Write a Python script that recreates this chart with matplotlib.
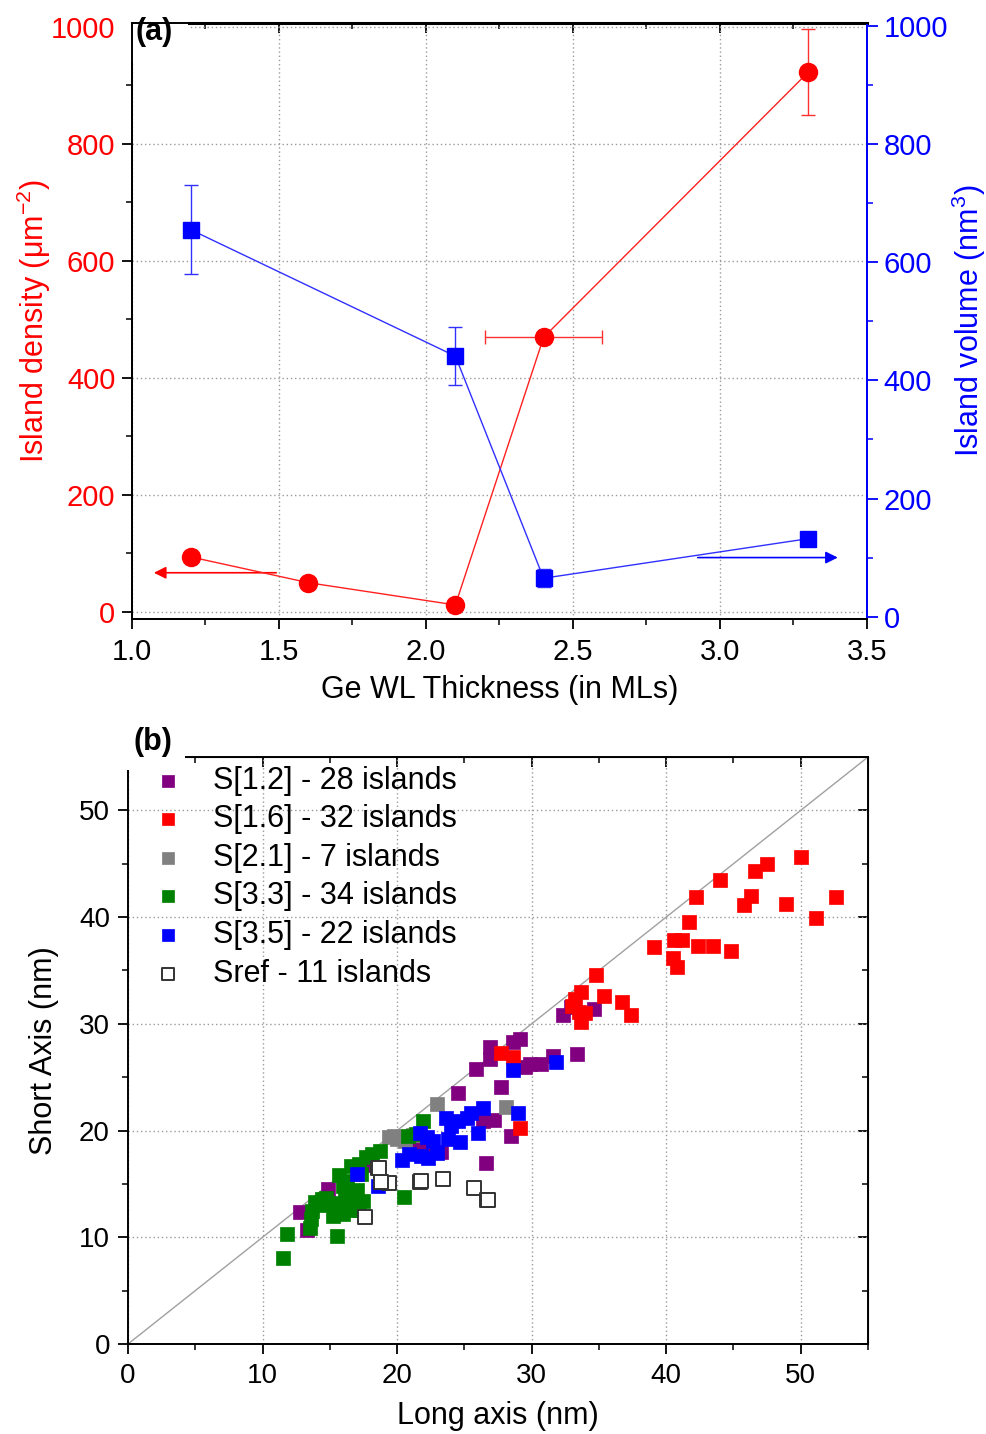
import numpy as np
import matplotlib
matplotlib.use("Agg")
import matplotlib.pyplot as plt
from matplotlib.ticker import MultipleLocator

plt.rcParams['font.family'] = ['Liberation Sans', 'DejaVu Sans']
plt.rcParams['mathtext.fontset'] = 'custom'
plt.rcParams['mathtext.rm'] = 'Liberation Sans'
plt.rcParams['mathtext.it'] = 'Liberation Sans:italic'

# ---- panel (a) data ----
thk_density = [1.2, 1.6, 2.1, 2.4, 3.3]
density = [94, 50, 12, 469, 922]
density_xerr = [0, 0, 0, 0.2, 0]
density_yerr = [0, 0, 0, 4, 73]

thk_volume = [1.2, 2.1, 2.4, 3.3]
volume = [655, 441, 65, 132]
volume_err = [75, 49, 15, 0]

# ---- panel (b) data ----
purple_long = [24.5, 25.9, 26.9, 26.9, 28.6, 29.1, 27.7, 29.9, 30.7, 31.6, 33.4, 32.3, 34.6, 27.2,
               28.5, 26.6, 23.3, 21.3, 14.9, 12.8, 13.3, 32.9, 21.8, 26.4, 29.5, 16.2, 17.9, 22.1]
purple_short = [23.5, 25.8, 27.8, 26.7, 28.3, 28.6, 24.1, 26.2, 26.2, 27.0, 27.2, 30.8, 31.4, 21.0,
                19.5, 17.0, 18.0, 18.7, 14.5, 12.4, 10.7, 31.6, 19.0, 20.9, 26.0, 14.8, 16.8, 18.4]

red_long = [39.1, 40.6, 41.2, 40.5, 40.8, 41.7, 42.2, 42.4, 43.5, 44.0, 44.8, 45.8, 46.3, 46.6, 47.5,
            48.9, 50.0, 51.1, 52.6, 34.8, 33.7, 35.4, 33.0, 33.5, 33.7, 36.7, 37.4, 27.7, 28.6, 29.1,
            33.2, 34.0]
red_short = [37.2, 37.9, 37.9, 36.2, 35.3, 39.5, 41.9, 37.3, 37.3, 43.5, 36.8, 41.1, 42.0, 44.3, 45.0,
             41.2, 45.6, 39.9, 41.9, 34.6, 33.0, 32.6, 31.7, 31.1, 30.2, 32.0, 30.8, 27.3, 26.9, 20.2,
             32.3, 31.0]

gray_long = [19.4, 20.0, 20.6, 19.8, 21.2, 23.0, 28.1]
gray_short = [19.4, 19.2, 19.0, 19.5, 19.6, 22.5, 22.2]

green_long = [11.5, 11.8, 15.5, 13.5, 13.6, 13.7, 13.9, 14.4, 14.7, 15.2, 15.6, 16.0, 16.5, 17.2, 17.5,
              16.7, 16.1, 16.0, 15.7, 16.3, 16.6, 17.2, 17.7, 18.1, 18.7, 17.3, 17.0, 20.5, 20.8, 21.9,
              21.4, 14.2, 15.1, 16.8]
green_short = [8.1, 10.3, 10.1, 10.9, 11.7, 12.5, 13.3, 13.6, 13.7, 12.0, 12.8, 12.2, 12.6, 12.6, 13.4,
               13.4, 14.0, 14.8, 15.8, 15.3, 16.7, 16.9, 17.5, 17.8, 18.1, 15.9, 14.4, 13.8, 19.5, 20.9,
               19.7, 13.0, 13.2, 14.2]

blue_long = [28.6, 31.8, 26.4, 29.0, 23.6, 24.5, 25.2, 26.0, 23.8, 24.7, 21.7, 22.2, 22.7, 20.9, 21.8,
             20.4, 22.3, 17.0, 18.6, 25.5, 23.0, 24.0]
blue_short = [25.7, 26.4, 22.1, 21.6, 21.2, 20.9, 21.2, 19.8, 19.2, 18.9, 19.8, 19.4, 19.0, 17.8, 17.6,
              17.2, 17.4, 15.9, 14.8, 21.6, 17.9, 20.4]

sref_long = [18.6, 19.4, 18.8, 21.7, 23.4, 25.7, 26.7, 17.6, 18.65, 21.75, 26.75]
sref_short = [16.5, 15.1, 15.2, 15.2, 15.5, 14.6, 13.5, 11.9, 16.45, 15.25, 13.45]

series_b = [
    ("S[1.2] - 28 islands", purple_long, purple_short, "#800080"),
    ("S[1.6] - 32 islands", red_long, red_short, "#ff0000"),
    ("S[2.1] - 7 islands", gray_long, gray_short, "#808080"),
    ("S[3.3] - 34 islands", green_long, green_short, "#008000"),
    ("S[3.5] - 22 islands", blue_long, blue_short, "#0000ff"),
    ("Sref - 11 islands", sref_long, sref_short, "white"),
]

FS_TA = 21   # tick labels panel a
FS_TB = 20   # tick labels panel b
FS_L = 22    # axis labels / legend
grid_kw = dict(color="#9a9a9a", linestyle=(0, (1, 2)), linewidth=1.0)

fig = plt.figure(figsize=(9.87, 14.34), dpi=100)

# ================= panel (a) =================
ax = fig.add_axes([132 / 987, 1 - 619 / 1434, 735 / 987, 596 / 1434])
ax2 = ax.twinx()

ax.set_xlim(1.0, 3.5)
ax.set_ylim(-12, 1006)
ax2.set_ylim(-4, 1005)

ax.xaxis.set_major_locator(MultipleLocator(0.5))
ax.xaxis.set_minor_locator(MultipleLocator(0.25))
ax.yaxis.set_major_locator(MultipleLocator(200))
ax.yaxis.set_minor_locator(MultipleLocator(100))
ax2.yaxis.set_major_locator(MultipleLocator(200))
ax2.yaxis.set_minor_locator(MultipleLocator(100))

ax.grid(True, which="major", **grid_kw)
ax.set_axisbelow(True)

ax.errorbar(thk_density, density, xerr=density_xerr, yerr=density_yerr, color="#ff2020", lw=1.0,
            marker="o", ms=13, mec="#ff0000", mfc="#ff0000", ecolor="#ff3030", elinewidth=1.0,
            capsize=5, capthick=1.0, zorder=3)
ax2.errorbar(thk_volume, volume, yerr=volume_err, color="#3030ff", lw=1.0,
             marker="s", ms=11, mec="#0000ff", mfc="#0000ff", ecolor="#3030ff", elinewidth=1.0,
             capsize=5, capthick=1.0, zorder=3)

# arrows pointing to the axis of each series
ax.annotate("", xy=(1.065, 67), xytext=(1.50, 67),
            arrowprops=dict(arrowstyle="-|>", color="#ff0000", lw=1.2, mutation_scale=18))
ax2.annotate("", xy=(3.41, 100), xytext=(2.915, 100),
             arrowprops=dict(arrowstyle="-|>", color="#0000ff", lw=1.2, mutation_scale=18))

for sp in ax.spines.values():
    sp.set_linewidth(1.4)
for sp in ax2.spines.values():
    sp.set_linewidth(1.4)
ax2.spines["right"].set_color("#0000ff")

ax.tick_params(axis="both", which="major", direction="out", length=7, width=1.3, labelsize=FS_TA, pad=5)
ax.tick_params(axis="both", which="minor", direction="out", length=4, width=1.1)
ax.tick_params(axis="y", labelcolor="#ff0000")
ax.tick_params(axis="x", pad=7)
ax2.tick_params(axis="y", which="major", direction="out", length=8, width=1.3, labelsize=FS_TA,
                color="#0000ff", labelcolor="#0000ff", pad=4)
ax2.tick_params(axis="y", which="minor", direction="out", length=4, width=1.1, color="#0000ff")

top_a = ax.secondary_xaxis("top")
top_a.xaxis.set_major_locator(MultipleLocator(0.5))
top_a.xaxis.set_minor_locator(MultipleLocator(0.25))
top_a.tick_params(which="major", direction="in", length=7, width=1.3, labeltop=False)
top_a.tick_params(which="minor", direction="in", length=4, width=1.1)
top_a.spines["top"].set_linewidth(2.2)

ax.set_xticklabels([f"{v:.1f}" for v in ax.get_xticks()])
ax.set_xlabel("Ge WL Thickness (in MLs)", fontsize=FS_L)
ax.xaxis.set_label_coords(0.5, -0.094)
ax.set_ylabel("Island density (μm$^{-2}$)", fontsize=FS_L, color="#ff0000")
ax.yaxis.set_label_coords(-0.108, 0.5)
ax2.set_ylabel("Island volume (nm$^{3}$)", fontsize=FS_L, color="#0000ff", rotation=90)
ax2.yaxis.set_label_coords(1.112, 0.5)

ax.text(0.005, 0.985, "(a)", transform=ax.transAxes, fontsize=FS_L, fontweight="bold",
        ha="left", va="center", zorder=10,
        bbox=dict(boxstyle="square,pad=0.5", fc="white", ec="none"))

# ================= panel (b) =================
bx = fig.add_axes([128 / 987, 1 - 1344 / 1434, 740 / 987, 587 / 1434])
bx.set_xlim(0, 55)
bx.set_ylim(0, 55)
bx.xaxis.set_major_locator(MultipleLocator(10))
bx.xaxis.set_minor_locator(MultipleLocator(5))
bx.yaxis.set_major_locator(MultipleLocator(10))
bx.yaxis.set_minor_locator(MultipleLocator(5))
bx.grid(True, which="major", **grid_kw)
bx.set_axisbelow(True)

bx.axline((0, 0), slope=1, color="#a0a0a0", lw=1.0, zorder=1)

for label, xs, ys, col in series_b:
    if col == "white":
        bx.scatter(xs, ys, marker="s", s=88, facecolors="white", edgecolors="#333333",
                   linewidths=1.4, label=label, zorder=3)
    else:
        bx.scatter(xs, ys, marker="s", s=95, color=col, edgecolors=col, linewidths=0.5,
                   label=label, zorder=3)

for sp in bx.spines.values():
    sp.set_linewidth(1.4)

bx.tick_params(axis="both", which="major", direction="out", length=7, width=1.3, labelsize=FS_TB, pad=6)
bx.tick_params(axis="both", which="minor", direction="out", length=4, width=1.1)
bx.tick_params(axis="x", pad=7)

top_b = bx.secondary_xaxis("top")
top_b.xaxis.set_major_locator(MultipleLocator(10))
top_b.xaxis.set_minor_locator(MultipleLocator(5))
top_b.tick_params(which="major", direction="in", length=7, width=1.3, labeltop=False)
top_b.tick_params(which="minor", direction="in", length=4, width=1.1)
right_b = bx.secondary_yaxis("right")
right_b.yaxis.set_major_locator(MultipleLocator(10))
right_b.yaxis.set_minor_locator(MultipleLocator(5))
right_b.tick_params(which="major", direction="in", length=7, width=1.3, labelright=False)
right_b.tick_params(which="minor", direction="in", length=4, width=1.1)

bx.set_xlabel("Long axis (nm)", fontsize=FS_L)
bx.xaxis.set_label_coords(0.5, -0.097)
bx.set_ylabel("Short Axis (nm)", fontsize=FS_L)
bx.yaxis.set_label_coords(-0.093, 0.5)

bx.legend(loc="upper left", bbox_to_anchor=(0.034, 0.985), frameon=False, fontsize=FS_L,
          markerscale=0.9, handlelength=1.0, handletextpad=0.97, labelspacing=0.28,
          borderaxespad=0.0, borderpad=0.0)

bx.text(0.008, 1.025, "(b)", transform=bx.transAxes, fontsize=FS_L, fontweight="bold",
        ha="left", va="center", zorder=10,
        bbox=dict(boxstyle="square,pad=0.4", fc="white", ec="none"))

fig.savefig("out.png", dpi=100)
